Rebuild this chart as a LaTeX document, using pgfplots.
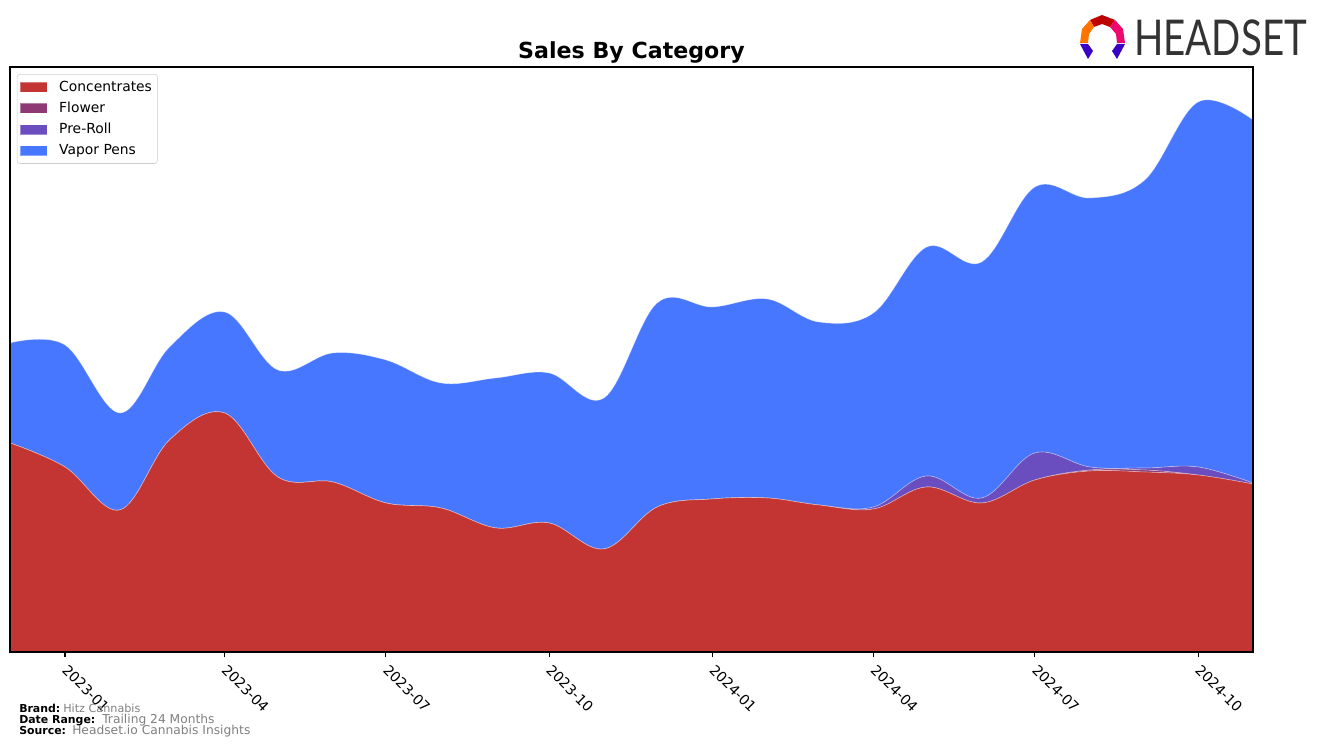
\documentclass[border=0pt]{standalone}
\usepackage{fontspec}
\setmainfont{DejaVu Sans}
\newfontfamily\logofont{Lato}
\usepackage{pgfplots}
\pgfplotsset{compat=1.18}
\usepackage{pgfplotstable}
\definecolor{conc}{RGB}{194,53,51}
\definecolor{flower}{RGB}{142,57,116}
\definecolor{preroll}{RGB}{106,77,190}
\definecolor{vapor}{RGB}{72,119,255}
\definecolor{footgray}{RGB}{128,128,128}
\definecolor{logogray}{RGB}{51,51,51}

\pgfplotstableread{
day conc flower preroll vapor
0 209 0 0 100
31 185 0 0 122
62 142 0 0 97
90 212 0 0 93
121 239 0 0 101
151 175 0 0 107
182 170 0 0 129
212 149 0 0 143
243 144 0 0 125
274 124 0 0 150
304 129 0 0 150
335 103 0 0 151
365 145 0 0 204
396 153 0 0 192
427 154 0 0 199
456 147 0 0 183
487 143 0 2 194
517 165 0 11 229
548 149 0 5 236
578 172 0 27 266
609 181 1 3 269
640 180 2 2 288
670 177 0 8 365
701 168 0 1 363
}\data

\begin{document}
\begin{tikzpicture}
\useasboundingbox (0,0) rectangle (987.75pt,560.25pt);
\begin{axis}[
 at={(7.5pt,71.25pt)}, anchor=south west,
 scale only axis, width=932.25pt, height=438.75pt,
 xmin=0, xmax=701, ymin=0, ymax=585,
 stack plots=y,
 axis line style={line width=0.8pt},
 xtick={31,121,212,304,396,487,578,670},
 xticklabels={2023-01,2023-04,2023-07,2023-10,2024-01,2024-04,2024-07,2024-10},
 xtick pos=lower,
 ytick=\empty,
 tick align=outside, major tick length=3.6pt,
 xtick style={line width=0.8pt, black},
 xticklabel style={rotate=-45, anchor=north west, font=\fontsize{10.6}{12}\selectfont, inner sep=1pt, xshift=4.5pt, yshift=-0.5pt},
 legend style={at={(0.0056,0.988)}, anchor=north west, draw=black!20, rounded corners=2pt, font=\fontsize{10.4}{12}\selectfont, row sep=2.6pt, inner xsep=2pt, inner ysep=3pt},
 legend cell align=left,
 legend image code/.code={\fill[#1, sharp corners] (1pt,-3.8pt) rectangle (21pt,3.8pt); \path (28pt,0pt);},
 axis on top,
]
\addplot[fill=conc, draw=white, draw opacity=0.35, line width=0.5pt, smooth, tension=0.6] table[x=day,y=conc]{\data} \closedcycle;
\addplot[fill=flower, draw=white, draw opacity=0.35, line width=0.5pt, smooth, tension=0.6] table[x=day,y=flower]{\data} \closedcycle;
\addplot[fill=preroll, draw=white, draw opacity=0.35, line width=0.5pt, smooth, tension=0.6] table[x=day,y=preroll]{\data} \closedcycle;
\addplot[fill=vapor, draw=white, draw opacity=0.35, line width=0.5pt, smooth, tension=0.6] table[x=day,y=vapor]{\data} \closedcycle;
\legend{Concentrates,Flower,Pre-Roll,Vapor Pens}
\end{axis}
\begin{scope}[shift={(0pt,560.25pt)}, x=0.75pt, y=-0.75pt]
 \node[font=\fontsize{16.6}{19}\selectfont\bfseries] at (631.5,52) {Sales By Category};
 % footer
 \node[anchor=base west, inner sep=0, font=\fontsize{8.2}{9}\selectfont\bfseries] at (19,712) {Brand:};
 \node[anchor=base west, inner sep=0, font=\fontsize{8.4}{9}\selectfont, text=footgray] at (63,712) {Hitz Cannabis};
 \node[anchor=base west, inner sep=0, font=\fontsize{8.2}{9}\selectfont\bfseries] at (19,723) {Date Range:};
 \node[anchor=base west, inner sep=0, font=\fontsize{9.2}{10}\selectfont, text=footgray] at (102,723) {Trailing 24 Months};
 \node[anchor=base west, inner sep=0, font=\fontsize{8.2}{9}\selectfont\bfseries] at (19,734) {Source:};
 \node[anchor=base west, inner sep=0, font=\fontsize{9.2}{10}\selectfont, text=footgray] at (72,734) {Headset.io Cannabis Insights};
 % logo
 \fill[red!75!black] (1090,20) -- (1102,15) -- (1115,20) -- (1110,27) -- (1102,24) -- (1094,27) -- cycle;
 \fill[orange!90!red] (1090,20) -- (1094,27) -- (1089,34) -- (1088,43) -- (1080,43) -- (1082,29) -- cycle;
 \fill[magenta!70!red] (1115,20) -- (1123,29) -- (1125,43) -- (1117,43) -- (1116,34) -- (1110,27) -- cycle;
 \fill[blue!55!violet] (1080,44) -- (1088,44) -- (1093,51) -- (1088,59) -- cycle;
 \fill[blue!55!violet] (1125,44) -- (1117,44) -- (1112,51) -- (1117,59) -- cycle;
 \node[anchor=base west, inner sep=0, text=logogray, xscale=0.78] at (1134,56) {\logofont\fontsize{37}{40}\selectfont HEADSET};
\end{scope}
\end{tikzpicture}
\end{document}
